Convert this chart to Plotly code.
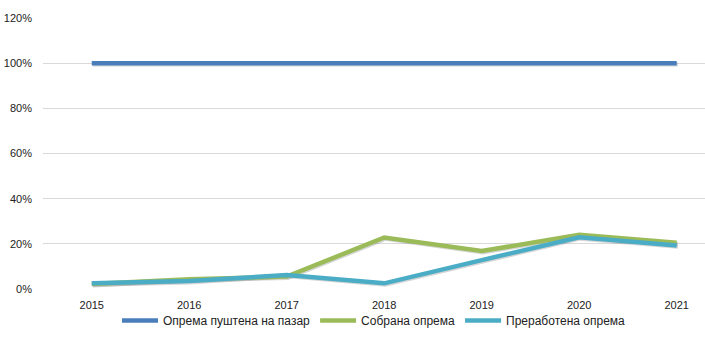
import plotly.graph_objects as go

years = ["2015", "2016", "2017", "2018", "2019", "2020", "2021"]
placed_on_market = [1.00, 1.00, 1.00, 1.00, 1.00, 1.00, 1.00]
collected = [0.022, 0.043, 0.055, 0.228, 0.168, 0.240, 0.205]
recycled = [0.025, 0.035, 0.062, 0.025, 0.128, 0.229, 0.193]

series = [
    ("Опрема пуштена на пазар", placed_on_market, "#4A7EBB"),
    ("Собрана опрема", collected, "#9BBB59"),
    ("Преработена опрема", recycled, "#4BACC6"),
]

fig = go.Figure()
xs = list(range(len(years)))
for name, vals, color in series:
    # soft drop shadow under each line
    fig.add_trace(go.Scatter(
        x=[x + 0.012 for x in xs], y=[v - 0.006 for v in vals], mode="lines",
        line=dict(color="rgba(90,90,90,0.25)", width=4),
        showlegend=False, hoverinfo="skip",
    ))
for name, vals, color in series:
    fig.add_trace(go.Scatter(
        x=xs, y=vals, mode="lines", name=name,
        line=dict(color=color, width=4.5),
    ))

fig.update_layout(
    width=705, height=341,
    margin=dict(l=43, r=0, t=18, b=52, autoexpand=False),
    paper_bgcolor="white", plot_bgcolor="white",
    font=dict(family="Liberation Sans, Arial, sans-serif", size=11, color="#222"),
    legend=dict(orientation="h", x=0.5, xanchor="center",
                yref="container", y=0.06, yanchor="middle",
                bgcolor="rgba(0,0,0,0)",
                font=dict(size=12), itemwidth=36, tracegroupgap=0),
    showlegend=True,
)
fig.update_xaxes(
    range=[-0.5, 6.29], tickmode="array", tickvals=xs, ticktext=years,
    showgrid=False, zeroline=False, showline=False, ticks="",
    ticklabelstandoff=8,
)
fig.update_yaxes(
    range=[0, 1.2], tickvals=[0, 0.2, 0.4, 0.6, 0.8, 1.0, 1.2], tickformat=".0%",
    showgrid=True, gridcolor="#D9D9D9", gridwidth=1, zeroline=False,
    ticks="", ticklabelstandoff=10,
)

fig.write_html("out.html")
